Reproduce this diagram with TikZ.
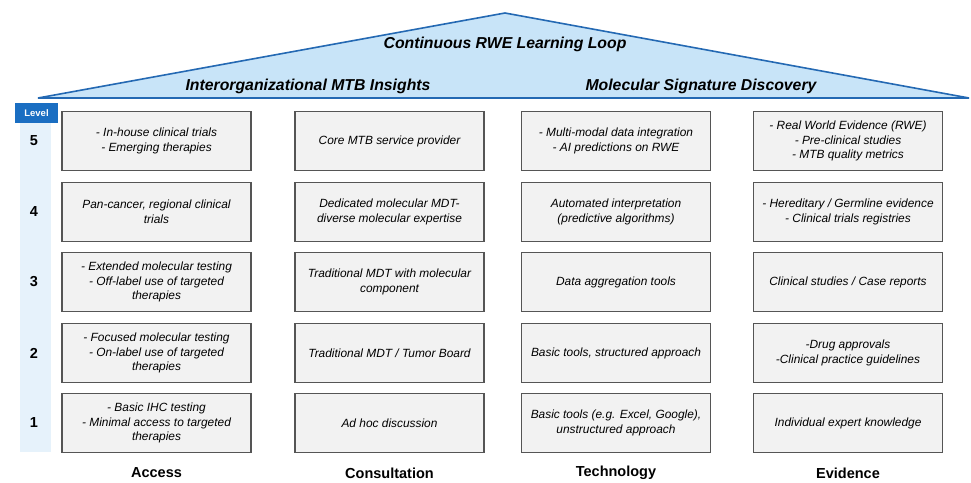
\documentclass[tikz,border=0pt]{standalone}
\usepackage{fontspec}
\setmainfont{Liberation Sans}
\definecolor{roofFill}{HTML}{C8E4F8}
\definecolor{roofLine}{HTML}{2469B3}
\definecolor{levelBlue}{HTML}{1A6EC2}
\definecolor{levelStrip}{HTML}{E6F2FB}
\definecolor{cellFill}{HTML}{F2F2F2}
\definecolor{cellLine}{HTML}{555555}
\begin{document}
\begin{tikzpicture}[x=1pt,y=-1pt,
  cell/.style={draw=cellLine, fill=cellFill, line width=1.1pt,
    minimum width=189pt, minimum height=59pt, inner sep=0pt,
    align=center, font=\fontsize{11.9}{14.8}\selectfont\itshape},
  levelnum/.style={font=\fontsize{14.5}{16}\selectfont\bfseries},
  colhead/.style={font=\fontsize{14.5}{17}\selectfont\bfseries},
  roofhead/.style={font=\fontsize{15.8}{18}\selectfont\bfseries\itshape}]
\useasboundingbox (0,0) rectangle (971,482);

% roof
\coordinate (roofL) at (38,98);
\coordinate (roofT) at (505,13);
\coordinate (roofR) at (969,98);
\draw[roofLine, fill=roofFill, line width=1.6pt, line join=miter] (roofL) -- (roofT) -- (roofR) -- cycle;
\node[roofhead] (loop) at (505,44) {Continuous RWE Learning Loop};
\node[roofhead] (mtb) at (308,86) {Interorganizational MTB Insights};
\node[roofhead] (msd) at (701,86) {Molecular Signature Discovery};

% level strip
\fill[levelStrip] (20,122) rectangle (51,452);
\node[fill=levelBlue, text=white, minimum width=43pt, minimum height=20pt, inner sep=0pt,
  font=\fontsize{9.5}{11}\selectfont\bfseries] (lvl) at (36.5,113) {Level};
\node[levelnum] (n5) at (34,141) {5};
\node[levelnum] (n4) at (34,212) {4};
\node[levelnum] (n3) at (34,282) {3};
\node[levelnum] (n2) at (34,353) {2};
\node[levelnum] (n1) at (34,423) {1};

% Access
\node[cell] (a5) at (156.5,141) {- In-house clinical trials\\- Emerging therapies};
\node[cell] (a4) at (156.5,212) {Pan-cancer, regional clinical\\trials};
\node[cell] (a3) at (156.5,282) {- Extended molecular testing\\- Off-label use of targeted\\therapies};
\node[cell] (a2) at (156.5,353) {- Focused molecular testing\\- On-label use of targeted\\therapies};
\node[cell] (a1) at (156.5,423) {- Basic IHC testing\\- Minimal access to targeted\\therapies};

% Consultation
\node[cell] (c5) at (389.5,141) {Core MTB service provider};
\node[cell] (c4) at (389.5,212) {Dedicated molecular MDT-\\diverse molecular expertise};
\node[cell] (c3) at (389.5,282) {Traditional MDT with molecular\\component};
\node[cell] (c2) at (389.5,353) {Traditional MDT / Tumor Board};
\node[cell] (c1) at (389.5,423) {Ad hoc discussion};

% Technology
\node[cell] (t5) at (616,141) {- Multi-modal data integration\\- AI predictions on RWE};
\node[cell] (t4) at (616,212) {Automated interpretation\\(predictive algorithms)};
\node[cell] (t3) at (616,282) {Data aggregation tools};
\node[cell] (t2) at (616,353) {Basic tools, structured approach};
\node[cell] (t1) at (616,423) {Basic tools (e.g. Excel, Google),\\unstructured approach};

% Evidence
\node[cell] (e5) at (848,141) {- Real World Evidence (RWE)\\- Pre-clinical studies\\- MTB quality metrics};
\node[cell] (e4) at (848,212) {- Hereditary / Germline evidence\\- Clinical trials registries};
\node[cell] (e3) at (848,282) {Clinical studies / Case reports};
\node[cell] (e2) at (848,353) {-Drug approvals\\-Clinical practice guidelines};
\node[cell] (e1) at (848,423) {Individual expert knowledge};

% column headings
\node[colhead] (hA) at (156.5,473) {Access};
\node[colhead] (hC) at (389.5,473) {Consultation};
\node[colhead] (hT) at (616,473) {Technology};
\node[colhead] (hE) at (848,473) {Evidence};
\end{tikzpicture}
\end{document}
